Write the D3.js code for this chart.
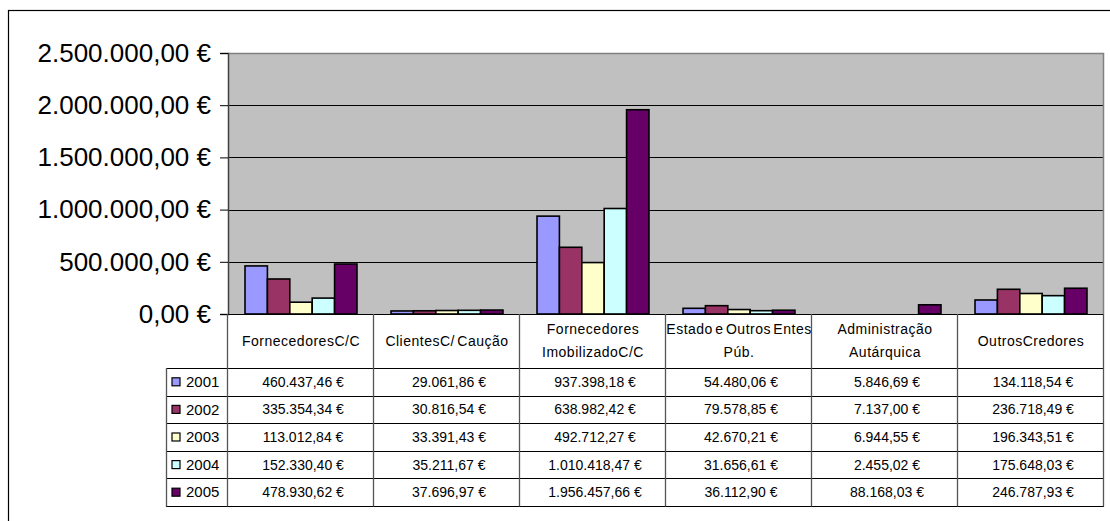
<!DOCTYPE html>
<html>
<head>
<meta charset="utf-8">
<script src="https://cdn.jsdelivr.net/npm/d3@7"></script>
<style>
  body { margin: 0; background: #fff; }
  svg { display: block; font-family: "Liberation Sans", Arial, sans-serif; }
</style>
</head>
<body>
<div id="chart"></div>
<script>
const categories = [
  ["FornecedoresC/C"],
  ["ClientesC/ Caução"],
  ["Fornecedores", "ImobilizadoC/C"],
  ["Estado e Outros Entes", "Púb."],
  ["Administração", "Autárquica"],
  ["OutrosCredores"]
]
const years = ["2001", "2002", "2003", "2004", "2005"]
const colors = ["#9999ff", "#993366", "#ffffcc", "#ccffff", "#660066"]

const v2001 = [460437.46, 29061.86, 937398.18, 54480.06, 5846.69, 134118.54]
const v2002 = [335354.34, 30816.54, 638982.42, 79578.85, 7137.00, 236718.49]
const v2003 = [113012.84, 33391.43, 492712.27, 42670.21, 6944.55, 196343.51]
const v2004 = [152330.40, 35211.67, 1010418.47, 31656.61, 2455.02, 175648.03]
const v2005 = [478930.62, 37696.97, 1956457.66, 36112.90, 88168.03, 246787.93]
const series = [v2001, v2002, v2003, v2004, v2005]

const yTicks = [0, 500000, 1000000, 1500000, 2000000, 2500000]

const width = 1110, height = 521
const plot = {left: 228, right: 1104, top: 53, bottom: 314}
const table = {legendLeft: 166, headerBottom: 368, rowHeight: 27.6}

const locale = d3.formatLocale({decimal: ",", thousands: ".", grouping: [3], currency: ["", " €"]})
const euro = locale.format("$,.2f")

const svg = d3.select("#chart").append("svg")
  .attr("width", width)
  .attr("height", height)

// moldura exterior
svg.append("rect")
  .attr("x", 8.5).attr("y", 10.5)
  .attr("width", width + 20).attr("height", height + 20)
  .attr("fill", "none").attr("stroke", "#000").attr("stroke-width", 1.2)

const keys = categories.map(c => c.join(" "))

const x0 = d3.scaleBand().domain(keys).range([plot.left, plot.right])
const x1 = d3.scaleBand().domain(years).range([0, x0.bandwidth()]).paddingOuter(0.76)
const y = d3.scaleLinear().domain([0, 2500000]).range([plot.bottom, plot.top])

svg.append("rect")
  .attr("x", plot.left).attr("y", plot.top)
  .attr("width", plot.right - plot.left).attr("height", plot.bottom - plot.top)
  .attr("fill", "#c0c0c0")

svg.append("g")
  .selectAll("line")
  .data(yTicks.filter(t => t > 0 && t < 2500000))
  .join("line")
  .attr("x1", plot.left).attr("x2", plot.right)
  .attr("y1", d => Math.round(y(d)) + 0.5).attr("y2", d => Math.round(y(d)) + 0.5)
  .attr("stroke", "#000")

// borda cinzenta do plot
svg.append("path")
  .attr("d", `M${plot.left},${plot.top + 0.5}H${plot.right - 0.5}V${plot.bottom}`)
  .attr("fill", "none").attr("stroke", "#808080").attr("stroke-width", 1.5)

const groups = svg.append("g")
  .selectAll("g")
  .data(keys)
  .join("g")
  .attr("transform", d => `translate(${x0(d)},0)`)

// barras com menos de 1px não aparecem no original
groups.selectAll("rect")
  .data((d, i) => years.map((yr, j) => ({year: yr, value: series[j][i], color: colors[j]})))
  .join("rect")
  .attr("x", d => x1(d.year))
  .attr("y", d => y(d.value))
  .attr("width", x1.bandwidth())
  .attr("height", d => y(0) - y(d.value))
  .attr("fill", d => d.color)
  .attr("fill-opacity", d => (y(0) - y(d.value)) < 1 ? 0 : 1)
  .attr("stroke", d => (y(0) - y(d.value)) < 1 ? "none" : "#000")
  .attr("stroke-width", 1.6)

const yAxis = svg.append("g")
  .attr("transform", `translate(${plot.left},0)`)
  .call(d3.axisLeft(y).tickValues(yTicks).tickSize(8).tickPadding(9).tickFormat(euro))
  .attr("font-family", null)
  .attr("font-size", 26)

yAxis.select(".domain").attr("stroke", "#404040").attr("stroke-width", 1.5)
yAxis.selectAll(".tick text").attr("fill", "#000")

// tabela de dados
const tbl = svg.append("g").attr("font-size", 14).attr("fill", "#000")
const rowY = i => table.headerBottom + i * table.rowHeight
const tableBottom = rowY(years.length)

tbl.append("line")
  .attr("x1", plot.left).attr("x2", plot.right)
  .attr("y1", plot.bottom + 0.5).attr("y2", plot.bottom + 0.5)
  .attr("stroke", "#000")

tbl.selectAll("line.row")
  .data(d3.range(years.length + 1))
  .join("line")
  .attr("class", "row")
  .attr("x1", table.legendLeft).attr("x2", plot.right)
  .attr("y1", i => Math.round(rowY(i)) + 0.5).attr("y2", i => Math.round(rowY(i)) + 0.5)
  .attr("stroke", "#000")

const colEdges = keys.map(k => x0(k)).concat([plot.right])
tbl.selectAll("line.col")
  .data(colEdges)
  .join("line")
  .attr("class", "col")
  .attr("x1", d => Math.round(d) - 0.5).attr("x2", d => Math.round(d) - 0.5)
  .attr("y1", plot.bottom).attr("y2", tableBottom + 0.5)
  .attr("stroke", "#555").attr("stroke-width", 1.3)

tbl.append("line")
  .attr("x1", table.legendLeft + 0.5).attr("x2", table.legendLeft + 0.5)
  .attr("y1", table.headerBottom).attr("y2", tableBottom + 0.5)
  .attr("stroke", "#555").attr("stroke-width", 1.3)

const headerMid = (plot.bottom + table.headerBottom) / 2
tbl.selectAll("text.head")
  .data(categories)
  .join("text")
  .attr("class", "head")
  .attr("text-anchor", "middle")
  .attr("letter-spacing", 0.5)
  .attr("word-spacing", -2)
  .attr("x", (d, i) => x0(keys[i]) + x0.bandwidth() / 2)
  .attr("y", d => headerMid - (d.length - 1) * 11.5)
  .selectAll("tspan")
  .data(d => d)
  .join("tspan")
  .attr("x", function () { return this.parentNode.getAttribute("x") })
  .attr("dy", (d, i) => i === 0 ? "0.35em" : 23)
  .text(d => d)

years.forEach((yr, j) => {
  const cy = (rowY(j) + rowY(j + 1)) / 2
  tbl.append("rect")
    .attr("x", 172).attr("y", cy - 4)
    .attr("width", 8).attr("height", 8)
    .attr("fill", colors[j]).attr("stroke", "#000").attr("stroke-width", 1.2)
  tbl.append("text")
    .attr("x", 186).attr("y", cy).attr("dy", "0.35em")
    .attr("font-size", 15)
    .text(yr)
  tbl.selectAll(null)
    .data(series[j])
    .join("text")
    .attr("text-anchor", "middle")
    .attr("x", (d, i) => x0(keys[i]) + x0.bandwidth() / 2 + 2)
    .attr("y", cy).attr("dy", "0.35em")
    .text(d => euro(d))
})
</script>
</body>
</html>
